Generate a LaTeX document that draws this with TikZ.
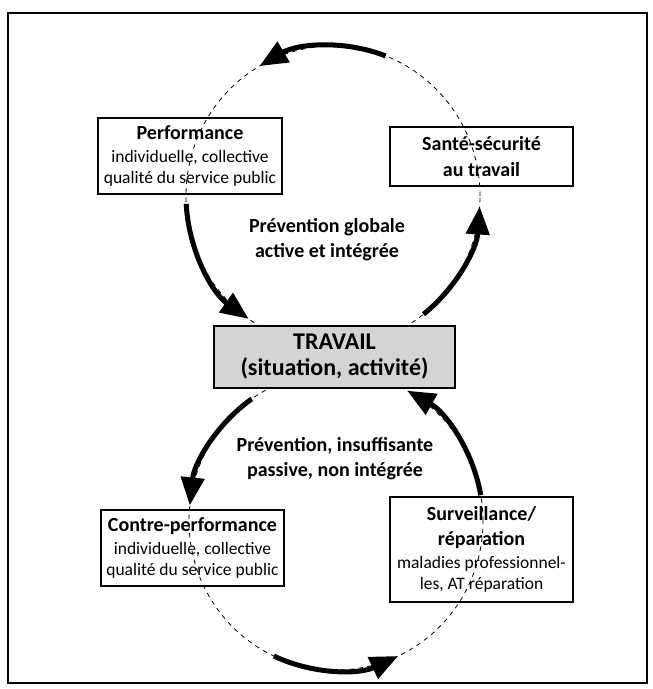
\documentclass[tikz,border=0pt]{standalone}
\usepackage{fontspec}
\setmainfont{Carlito}
\usetikzlibrary{arrows.meta}

\begin{document}
\begin{tikzpicture}[x=1pt,y=1pt,
  box/.style={draw, line width=1.1pt, inner sep=0pt, align=center,
    font=\fontsize{17.5}{21}\selectfont},
  title/.style={font=\bfseries\fontsize{20}{25}\selectfont},
  label/.style={align=center, inner sep=0pt, font=\bfseries\fontsize{20}{25}\selectfont},
  loopline/.style={dash pattern=on 4.5pt off 4.5pt, line width=0.8pt},
  flow/.style={line width=5pt, -{Triangle[length=28pt,width=23pt]}}]

\useasboundingbox (0,0) rectangle (653,-689);
\draw[line width=1.3pt] (8,-13) rectangle (647,-683);

% centres of the two cycles
\coordinate (U) at (333,-196);
\coordinate (L) at (336,-521);

% dashed cycles
\draw[loopline] (U) ellipse [x radius=147, y radius=150];
\draw[loopline] (L) ellipse [x radius=147, y radius=149];

% upper cycle: prevention globale
\draw[flow] (U) ++(69:147 and 150) arc[start angle=69, end angle=120, x radius=147, y radius=150];
\draw[flow] (U) ++(183:147 and 150) arc[start angle=183, end angle=235, x radius=147, y radius=150];
\draw[flow] (U) ++(-52:147 and 150) arc[start angle=-52, end angle=-4, x radius=147, y radius=150];

% lower cycle: prevention insuffisante
\draw[flow] (L) ++(125:147 and 149) arc[start angle=125, end angle=174, x radius=147, y radius=149];
\draw[flow] (L) ++(245:147 and 149) arc[start angle=245, end angle=295, x radius=147, y radius=149];
\draw[flow] (L) ++(10:147 and 149) arc[start angle=10, end angle=61, x radius=147, y radius=149];

% boxes
\node[box, minimum width=184pt, minimum height=76pt] (perf) at (190,-156)
  {{\bfseries\fontsize{20}{25}\selectfont Performance}\\[2pt]
   individuelle, collective\\ qualité du service public};
\node[box, minimum width=183pt, minimum height=59pt, title] (sante) at (481.5,-156.5)
  {Santé-sécurité\\[1pt] au travail};
\node[box, minimum width=241pt, minimum height=62pt, fill=black!17,
      font=\bfseries\fontsize{24}{26}\selectfont] (travail) at (334.5,-357)
  {TRAVAIL\\ (situation, activité)};
\node[box, minimum width=183pt, minimum height=76pt] (contre) at (192.5,-548)
  {{\bfseries\fontsize{20}{25}\selectfont Contre-performance}\\[2pt]
   individuelle, collective\\ qualité du service public};
\node[box, minimum width=183pt, minimum height=105pt] (surv) at (481.5,-549.5)
  {{\bfseries\fontsize{20}{25}\selectfont Surveillance/}\\[4pt]
   {\bfseries\fontsize{20}{25}\selectfont réparation}\\[2pt]
   maladies professionnel-\\ les, AT réparation};

% cycle labels
\node[label] (prevg) at (327,-240) {Prévention globale\\ active et intégrée};
\node[label] (previ) at (335,-459) {Prévention, insuffisante\\ passive, non intégrée};
\end{tikzpicture}
\end{document}
